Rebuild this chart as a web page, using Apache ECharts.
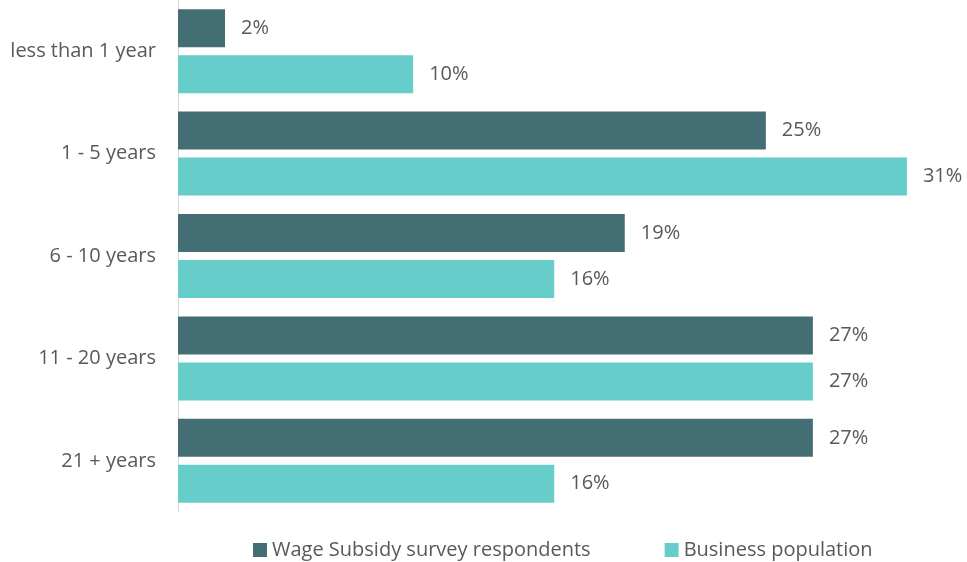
<!DOCTYPE html>
<html>
<head>
<meta charset="utf-8">
<script src="https://cdn.jsdelivr.net/npm/echarts@6/dist/echarts.min.js"></script>
<style>
  html, body { margin: 0; padding: 0; background: #fff; }
  #chart { width: 967px; height: 562px; }
</style>
</head>
<body>
<div id="chart"></div>
<script>
// Years in business, by group (percent)
const categories = ['less than 1 year', '1 - 5 years', '6 - 10 years', '11 - 20 years', '21 + years'];
const seriesNames = ['Wage Subsidy survey respondents', 'Business population'];
const respondents = [2, 25, 19, 27, 27];
const population = [10, 31, 16, 27, 16];

const textColor = '#595959';
const fontFamily = '"Open Sans", sans-serif';

const chart = echarts.init(document.getElementById('chart'), null, { renderer: 'canvas' });

const labelStyle = {
  show: true,
  position: 'right',
  distance: 16,
  formatter: '{c}%',
  color: textColor,
  fontSize: 20,
  fontFamily: fontFamily
};

chart.setOption({
  animation: false,
  backgroundColor: '#ffffff',
  grid: { left: 178, right: 29.5, top: -2, height: 514, containLabel: false },
  xAxis: {
    type: 'value',
    min: 0,
    max: 32.3,
    show: false,
    splitLine: { show: false }
  },
  yAxis: {
    type: 'category',
    data: categories,
    inverse: true,
    axisLine: { show: true, lineStyle: { color: '#D9D9D9', width: 1 } },
    axisTick: { show: false },
    axisLabel: { color: textColor, fontSize: 20, fontFamily: fontFamily, margin: 22 }
  },
  legend: {
    data: seriesNames,
    left: 248,
    top: 535,
    itemWidth: 14,
    itemHeight: 14,
    itemGap: 74,
    icon: 'rect',
    textStyle: { color: textColor, fontSize: 20, fontFamily: fontFamily }
  },
  series: [
    {
      name: seriesNames[0],
      type: 'bar',
      data: respondents,
      barWidth: 38,
      barGap: '21%',
      itemStyle: { color: '#436E73' },
      label: labelStyle
    },
    {
      name: seriesNames[1],
      type: 'bar',
      data: population,
      barWidth: 38,
      barGap: '21%',
      itemStyle: { color: '#66CDCA' },
      label: labelStyle
    }
  ]
});
</script>
</body>
</html>
